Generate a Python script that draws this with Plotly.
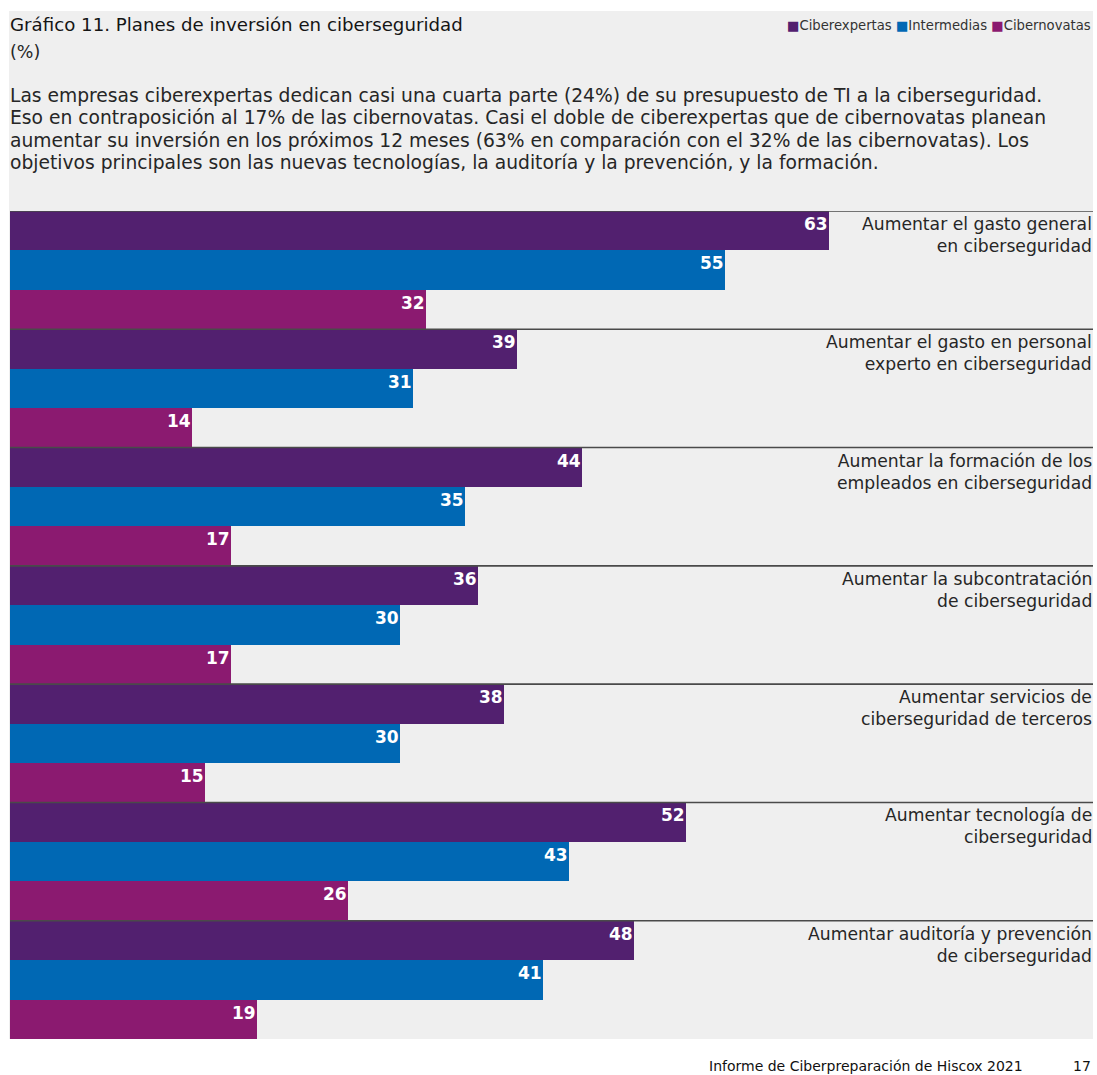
import plotly.graph_objects as go

# Investment plans, % of companies per readiness group
categories = [
    "Aumentar el gasto general<br>en ciberseguridad",
    "Aumentar el gasto en personal<br>experto en ciberseguridad",
    "Aumentar la formación de los<br>empleados en ciberseguridad",
    "Aumentar la subcontratación<br>de ciberseguridad",
    "Aumentar servicios de<br>ciberseguridad de terceros",
    "Aumentar tecnología de<br>ciberseguridad",
    "Aumentar auditoría y prevención<br>de ciberseguridad",
]
series_names = ["Ciberexpertas", "Intermedias", "Cibernovatas"]
ciberexpertas = [63, 39, 44, 36, 38, 52, 48]
intermedias = [55, 31, 35, 30, 30, 43, 41]
cibernovatas = [32, 14, 17, 17, 15, 26, 19]
colors = ["#52206f", "#0068b4", "#8b1a70"]

paragraph_lines = [
    "Las empresas ciberexpertas dedican casi una cuarta parte (24%) de su presupuesto de TI a la ciberseguridad.",
    "Eso en contraposición al 17% de las cibernovatas. Casi el doble de ciberexpertas que de cibernovatas planean",
    "aumentar su inversión en los próximos 12 meses (63% en comparación con el 32% de las cibernovatas). Los",
    "objetivos principales son las nuevas tecnologías, la auditoría y la prevención, y la formación.",
]

series_values = [ciberexpertas, intermedias, cibernovatas]

FONT = "DejaVu Sans"
TEXT = "#262626"
PANEL = "#efefef"

W, H = 1097, 1075
ML, MR, MT, MB = 10, 4, 211, 36

fig = go.Figure()
n_series = len(series_values)
for name, vals, col in zip(series_names, series_values, colors):
    fig.add_trace(go.Bar(
        y=list(range(len(categories))), x=vals, name=name, orientation="h",
        marker=dict(color=col, line=dict(width=0)),
        hoverinfo="x+name", showlegend=False,
    ))

annotations = []
shapes = []

plot_h = H - MT - MB
plot_w = W - ML - MR


def paper_y(px):
    return (H - MB - px) / plot_h


def paper_x(px):
    return (px - ML) / plot_w


# grey panel behind everything
shapes.append(dict(type="rect", xref="paper", yref="paper",
                   x0=paper_x(9), x1=1, y0=0, y1=paper_y(11),
                   fillcolor=PANEL, line=dict(width=0), layer="below"))

for g, cat in enumerate(categories):
    # separator line on top of each group
    shapes.append(dict(type="line", xref="paper", yref="y",
                       x0=0, x1=1, y0=g - 0.5, y1=g - 0.5,
                       line=dict(color="#4a4a4a", width=1.6), layer="above"))
    annotations.append(dict(
        xref="paper", yref="y", x=1, y=g - 0.5, xanchor="right", yanchor="top",
        text=cat, showarrow=False, align="right", yshift=-1, xshift=1,
        font=dict(family=FONT, size=17.2, color=TEXT),
    ))
    for k, vals in enumerate(series_values):
        annotations.append(dict(
            xref="x", yref="y", x=vals[g], y=g - 0.5 + k / n_series,
            xanchor="right", yanchor="top", text=f"<b>{vals[g]}</b>",
            showarrow=False, xshift=1, yshift=-1,
            font=dict(family=FONT, size=17, color="white"),
        ))

# header texts
annotations.append(dict(
    xref="paper", yref="paper", x=paper_x(8), y=paper_y(25), xanchor="left", yanchor="middle",
    text="Gráfico 11. Planes de inversión en ciberseguridad", showarrow=False,
    font=dict(family=FONT, size=18.2, color="#151515"),
))
annotations.append(dict(
    xref="paper", yref="paper", x=paper_x(8), y=paper_y(52), xanchor="left", yanchor="middle",
    text="(%)", showarrow=False, font=dict(family=FONT, size=17.5, color=TEXT),
))
for i, line in enumerate(paragraph_lines):
    annotations.append(dict(
        xref="paper", yref="paper", x=paper_x(8), y=paper_y(95 + 22.6 * i),
        xanchor="left", yanchor="middle", text=line, showarrow=False, align="left",
        font=dict(family=FONT, size=18.7, color=TEXT),
    ))

# legend as coloured squares followed by names
legend_text = "".join(
    f"<span style='color:{c}'>■</span>{n} " for n, c in zip(series_names, colors)
).strip()
annotations.append(dict(
    xref="paper", yref="paper", x=1, y=paper_y(26), xanchor="right", yanchor="middle",
    text=legend_text, showarrow=False, font=dict(family=FONT, size=13.2, color="#333333"),
))

# footer
annotations.append(dict(
    xref="paper", yref="paper", x=paper_x(1025), y=paper_y(1066), xanchor="right", yanchor="middle",
    text="Informe de Ciberpreparación de Hiscox 2021", showarrow=False,
    font=dict(family=FONT, size=14, color="#111111"),
))
annotations.append(dict(
    xref="paper", yref="paper", x=paper_x(1093), y=paper_y(1066), xanchor="right", yanchor="middle",
    text="17", showarrow=False, font=dict(family=FONT, size=14, color="#111111"),
))

fig.update_layout(
    width=W, height=H,
    margin=dict(l=ML, r=MR, t=MT, b=MB),
    paper_bgcolor="white", plot_bgcolor=PANEL,
    barmode="group", bargap=0, bargroupgap=0,
    xaxis=dict(range=[0, plot_w / 13.0], visible=False, fixedrange=True),
    yaxis=dict(range=[len(categories) - 0.5, -0.5], visible=False, fixedrange=True),
    shapes=shapes, annotations=annotations, showlegend=False,
)

fig.write_html("out.html")
